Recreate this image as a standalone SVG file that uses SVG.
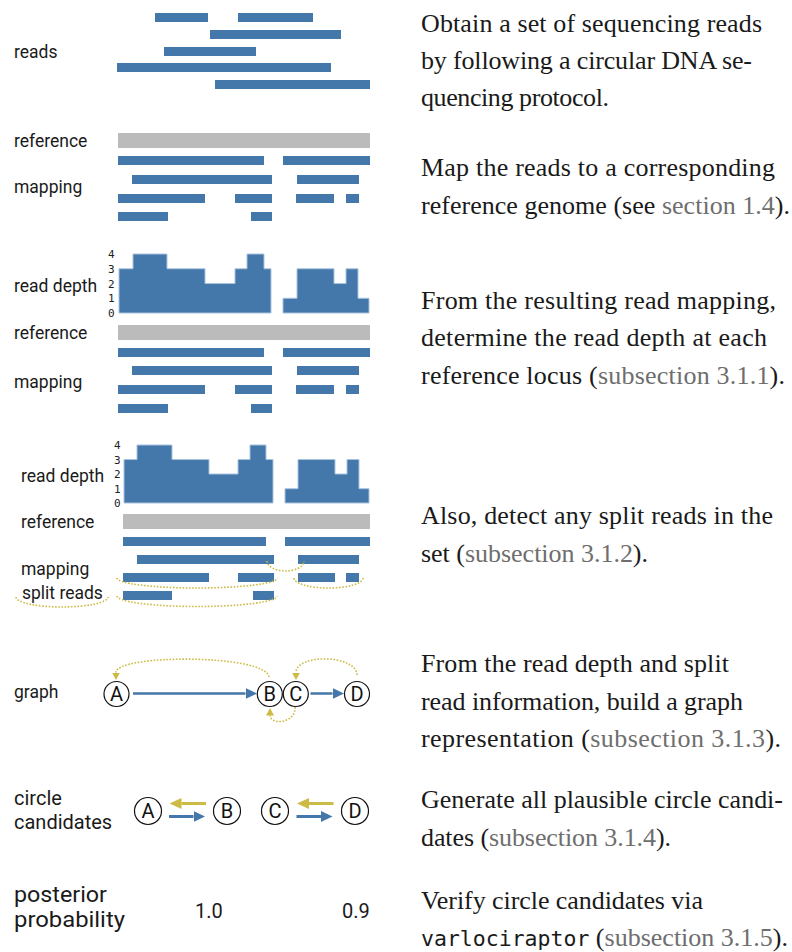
<svg xmlns="http://www.w3.org/2000/svg" width="792" height="952" viewBox="0 0 792 952">
  <style>
    .lbl { font-family: Roboto, "Noto Sans", sans-serif; font-size: 17.5px; fill: #1a1a1a; }
    .lbl-lg { font-size: 20px; }
    .lbl-xl { font-size: 21.5px; }
    .axis { font-family: "DejaVu Sans Mono", "Liberation Mono", monospace; font-size: 11px; fill: #222; }
    .desc { font-family: "Liberation Serif", "Times New Roman", serif; font-size: 26px; fill: #1a1a1a; }
    .xref { fill: #6e6e6e; }
    .mono { font-family: "DejaVu Sans Mono", "Liberation Mono", monospace; font-size: 21.5px; }
    .read { fill: #4477aa; }
    .refbar { fill: #bbbbbb; }
    .depth { fill: #4477aa; stroke: #a9c3df; stroke-width: 1; }
    .split { fill: none; stroke: #ccbb44; stroke-width: 1.6; stroke-dasharray: 1.6 1.6; }
    .node circle { fill: #ffffff; stroke: #111111; stroke-width: 1.2; }
    .node text { font-family: Roboto, "Noto Sans", sans-serif; font-size: 20px; fill: #111111; text-anchor: middle; }
    .edge { fill: none; stroke: #4477aa; stroke-width: 2.5; }
    .back { fill: none; stroke: #ccbb44; stroke-width: 1.6; stroke-dasharray: 1.6 1.6; }
    .cand-y { stroke: #ccbb44; stroke-width: 3; }
    .cand-b { stroke: #4477aa; stroke-width: 3; }
  </style>
  <defs>
    <marker id="head-blue" markerUnits="userSpaceOnUse" markerWidth="12" markerHeight="11" refX="0" refY="5.5" orient="auto">
      <path d="M0,0 L11.5,5.5 L0,11 Z" fill="#4477aa"/>
    </marker>
    <marker id="head-yellow" markerUnits="userSpaceOnUse" markerWidth="12" markerHeight="11" refX="0" refY="5.5" orient="auto">
      <path d="M0,0 L12,5.5 L0,11 Z" fill="#ccbb44"/>
    </marker>
    <marker id="head-dot" markerUnits="userSpaceOnUse" markerWidth="8" markerHeight="8" refX="0" refY="4" orient="auto">
      <path d="M0,0 L7.5,4 L0,8 Z" fill="#ccbb44"/>
    </marker>
  </defs>

  <rect x="0" y="0" width="792" height="952" fill="#ffffff"/>

  <!-- step 1: raw reads -->
  <g id="reads">
    <text class="lbl" x="14" y="58">reads</text>
    <rect class="read" x="155" y="13" width="53" height="9"/>
    <rect class="read" x="238" y="13" width="75" height="9"/>
    <rect class="read" x="210" y="30" width="131" height="9"/>
    <rect class="read" x="164" y="47" width="92" height="9"/>
    <rect class="read" x="117" y="63" width="214" height="9"/>
    <rect class="read" x="215" y="80" width="155" height="9"/>
  </g>

  <!-- step 2: reads mapped onto the reference -->
  <g id="mapping-1">
    <text class="lbl" x="14" y="147">reference</text>
    <text class="lbl" x="14" y="193">mapping</text>
    <rect class="refbar" x="118" y="133" width="252" height="15"/>
    <rect class="read" x="118" y="156" width="146" height="9"/>
    <rect class="read" x="283" y="156" width="87" height="9"/>
    <rect class="read" x="132" y="175" width="140" height="9"/>
    <rect class="read" x="297" y="175" width="62" height="9"/>
    <rect class="read" x="118" y="194" width="87" height="9"/>
    <rect class="read" x="235" y="194" width="37" height="9"/>
    <rect class="read" x="296" y="194" width="38" height="9"/>
    <rect class="read" x="346" y="194" width="13" height="9"/>
    <rect class="read" x="118" y="212" width="50" height="9"/>
    <rect class="read" x="251" y="212" width="21" height="9"/>
  </g>

  <!-- step 3: read depth profile -->
  <g id="depth-1">
    <text class="lbl" x="14" y="292">read depth</text>
    <text class="axis" x="108" y="258">4</text>
    <text class="axis" x="108" y="273">3</text>
    <text class="axis" x="108" y="288">2</text>
    <text class="axis" x="108" y="302">1</text>
    <text class="axis" x="108" y="317">0</text>
    <path class="depth" d="M119,313 V268.75 H133 V254 H167 V268.75 H205 V283.5 H235 V268.75 H247 V254 H264 V268.75 H271 V313 Z"/>
    <path class="depth" d="M283,313 V298.25 H297 V268.75 H334 V283.5 H346 V268.75 H358 V298.25 H369 V313 Z"/>
  </g>
  <g id="mapping-2">
    <text class="lbl" x="14" y="339">reference</text>
    <text class="lbl" x="14" y="388">mapping</text>
    <rect class="refbar" x="118" y="325" width="252" height="15"/>
    <rect class="read" x="118" y="348" width="146" height="9"/>
    <rect class="read" x="283" y="348" width="87" height="9"/>
    <rect class="read" x="132" y="366" width="140" height="9"/>
    <rect class="read" x="297" y="366" width="62" height="9"/>
    <rect class="read" x="118" y="385" width="87" height="9"/>
    <rect class="read" x="235" y="385" width="37" height="9"/>
    <rect class="read" x="296" y="385" width="38" height="9"/>
    <rect class="read" x="346" y="385" width="13" height="9"/>
    <rect class="read" x="118" y="404" width="50" height="9"/>
    <rect class="read" x="251" y="404" width="21" height="9"/>
  </g>

  <!-- step 4: split reads -->
  <g id="depth-2">
    <text class="lbl" x="21" y="482">read depth</text>
    <text class="axis" x="114" y="449">4</text>
    <text class="axis" x="114" y="463.5">3</text>
    <text class="axis" x="114" y="478">2</text>
    <text class="axis" x="114" y="492.5">1</text>
    <text class="axis" x="114" y="507">0</text>
    <path class="depth" d="M124,503 V459.5 H137 V445 H172 V459.5 H209 V474 H238 V459.5 H250 V445 H266 V459.5 H273 V503 Z"/>
    <path class="depth" d="M285,503 V488.7 H298 V459.5 H335 V474 H347 V459.5 H359 V488.7 H369 V503 Z"/>
  </g>
  <g id="mapping-3">
    <text class="lbl" x="21" y="528">reference</text>
    <text class="lbl" x="21" y="575">mapping</text>
    <text class="lbl" x="22" y="599">split reads</text>
    <rect class="refbar" x="123" y="514" width="247" height="15"/>
    <rect class="read" x="123" y="537" width="143" height="9"/>
    <rect class="read" x="285" y="537" width="85" height="9"/>
    <rect class="read" x="137" y="555" width="137" height="9"/>
    <rect class="read" x="298" y="555" width="61" height="9"/>
    <rect class="read" x="123" y="573" width="86" height="9"/>
    <rect class="read" x="238" y="573" width="36" height="9"/>
    <rect class="read" x="298" y="573" width="37" height="9"/>
    <rect class="read" x="346" y="573" width="13" height="9"/>
    <rect class="read" x="123" y="591" width="49" height="9"/>
    <rect class="read" x="253" y="591" width="21" height="9"/>
  </g>
  <g id="split-links">
    <path class="split" d="M16,597 A46,10 0 0 0 108,597"/>
    <path class="split" d="M267,561 A18.5,10 0 0 0 304,561"/>
    <path class="split" d="M117,578 A80,10 0 0 0 277,578"/>
    <path class="split" d="M294,578 A34.5,10 0 0 0 363,578"/>
    <path class="split" d="M117,596 A80,10.5 0 0 0 277,596"/>
  </g>

  <!-- step 5: graph -->
  <text class="lbl" x="14" y="698">graph</text>
  <g id="connectors">
    <line class="edge" x1="133" y1="693.5" x2="245.5" y2="693.5" marker-end="url(#head-blue)"/>
    <line class="edge" x1="310.5" y1="693.5" x2="332.5" y2="693.5" marker-end="url(#head-blue)"/>
    <path class="back" d="M269,677 C266,654 116,654 116,672.5" marker-end="url(#head-dot)"/>
    <path class="back" d="M357,675 C356,654 296,654 296,672.5" marker-end="url(#head-dot)"/>
    <path class="back" d="M295,707 C296,724 270,725 270,715.5" marker-end="url(#head-dot)"/>

    <line class="cand-y" x1="206" y1="803.5" x2="181.5" y2="803.5" marker-end="url(#head-yellow)"/>
    <line class="cand-b" x1="169" y1="816.5" x2="193.5" y2="816.5" marker-end="url(#head-blue)"/>
    <line class="cand-y" x1="333.5" y1="803.5" x2="309" y2="803.5" marker-end="url(#head-yellow)"/>
    <line class="cand-b" x1="296.5" y1="816.5" x2="321" y2="816.5" marker-end="url(#head-blue)"/>
  </g>
  <g id="node-A" class="node"><circle cx="116.5" cy="694" r="12.5"/><text x="116.5" y="701">A</text></g>
  <g id="node-B" class="node"><circle cx="269.8" cy="694" r="12.5"/><text x="269.8" y="701">B</text></g>
  <g id="node-C" class="node"><circle cx="295.8" cy="694" r="12.5"/><text x="295.8" y="701">C</text></g>
  <g id="node-D" class="node"><circle cx="357" cy="694" r="12.5"/><text x="357" y="701">D</text></g>

  <!-- step 6: circle candidates -->
  <text class="lbl lbl-lg" x="14" y="805">circle</text>
  <text class="lbl lbl-lg" x="14" y="829">candidates</text>
  <g id="cand-A" class="node"><circle cx="148" cy="811" r="13.5"/><text x="148" y="818">A</text></g>
  <g id="cand-B" class="node"><circle cx="227" cy="811" r="13.5"/><text x="227" y="818">B</text></g>
  <g id="cand-C" class="node"><circle cx="275" cy="811" r="13.5"/><text x="275" y="818">C</text></g>
  <g id="cand-D" class="node"><circle cx="355" cy="811" r="13.5"/><text x="355" y="818">D</text></g>

  <!-- step 7: posterior probabilities -->
  <g id="posterior">
    <text class="lbl lbl-xl" x="14" y="902" textLength="93" lengthAdjust="spacingAndGlyphs">posterior</text>
    <text class="lbl lbl-xl" x="14" y="927" textLength="111" lengthAdjust="spacingAndGlyphs">probability</text>
    <text class="lbl lbl-lg" x="195" y="918">1.0</text>
    <text class="lbl lbl-lg" x="342" y="918">0.9</text>
  </g>

  <!-- step descriptions -->
  <g id="descriptions">
    <text class="desc" x="421" y="32" textLength="341">Obtain a set of sequencing reads</text>
    <text class="desc" x="421" y="69" textLength="331">by following a circular DNA se-</text>
    <text class="desc" x="421" y="106" textLength="188">quencing protocol.</text>

    <text class="desc" x="421" y="176" textLength="354">Map the reads to a corresponding</text>
    <text class="desc" x="421" y="213.5" textLength="369">reference genome (see <tspan class="xref">section 1.4</tspan>).</text>

    <text class="desc" x="421" y="308.5" textLength="355">From the resulting read mapping,</text>
    <text class="desc" x="421" y="346" textLength="346">determine the read depth at each</text>
    <text class="desc" x="421" y="383.5" textLength="364">reference locus (<tspan class="xref">subsection 3.1.1</tspan>).</text>

    <text class="desc" x="421" y="524" textLength="352">Also, detect any split reads in the</text>
    <text class="desc" x="421" y="561.5" textLength="227">set (<tspan class="xref">subsection 3.1.2</tspan>).</text>

    <text class="desc" x="421" y="672" textLength="308">From the read depth and split</text>
    <text class="desc" x="421" y="709.5" textLength="322">read information, build a graph</text>
    <text class="desc" x="421" y="747" textLength="360">representation (<tspan class="xref">subsection 3.1.3</tspan>).</text>

    <text class="desc" x="421" y="808" textLength="362">Generate all plausible circle candi-</text>
    <text class="desc" x="421" y="845.5" textLength="250">dates (<tspan class="xref">subsection 3.1.4</tspan>).</text>

    <text class="desc" x="421" y="909" textLength="282">Verify circle candidates via</text>
    <text class="desc" x="421" y="946" textLength="367"><tspan class="mono">varlociraptor</tspan> (<tspan class="xref">subsection 3.1.5</tspan>).</text>
  </g>
</svg>
